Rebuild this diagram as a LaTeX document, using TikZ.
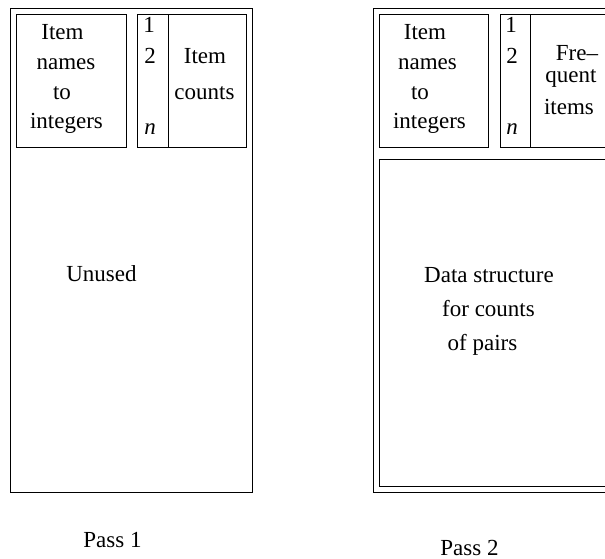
\documentclass[tikz,border=0pt]{standalone}
\usepackage{fontspec}
\setmainfont{Liberation Serif}
\begin{document}
\begin{tikzpicture}[x=1pt,y=-1pt,
  box/.style={draw=black,line width=1pt},
  lbl/.style={anchor=base,inner sep=0pt,font=\fontsize{23}{28}\selectfont}]
\clip (0,0) rectangle (605,559);
% ---------- Pass 1 ----------
\draw[box] (10,9) rectangle (252,492);
\draw[box] (16,15) rectangle (126,148);
\draw[box] (137,15) rectangle (246,148);
\draw[box] (168,15) -- (168,148);
\node[lbl] (a1) at (62.5,40) {Item};
\node[lbl] (a2) at (66,70) {names};
\node[lbl] (a3) at (62,100) {to};
\node[lbl] (a4) at (66.5,129) {integers};
\node[lbl] (i1) at (149,33) {1};
\node[lbl] (i2) at (150,64) {2};
\node[lbl] (in) at (150,135) {\textit{n}};
\node[lbl] (c1) at (205,64) {Item};
\node[lbl] (c2) at (204.5,100) {counts};
\node[lbl] (unused) at (101.5,281) {Unused};
\node[lbl] (pass1) at (112.5,547) {Pass 1};
% ---------- Pass 2 ----------
\draw[box] (373,9) rectangle (640,492);
\draw[box] (379,15) rectangle (488,148);
\draw[box] (500,15) rectangle (640,148);
\draw[box] (530,15) -- (530,148);
\draw[box] (379,160) rectangle (640,486);
\node[lbl] (b1) at (425,40) {Item};
\node[lbl] (b2) at (427.5,70) {names};
\node[lbl] (b3) at (420,100) {to};
\node[lbl] (b4) at (429.5,129) {integers};
\node[lbl] (j1) at (511,33) {1};
\node[lbl] (j2) at (512,64) {2};
\node[lbl] (jn) at (512,135) {\textit{n}};
\node[lbl] (f1) at (577,61) {Fre–};
\node[lbl] (f2) at (571,83) {quent};
\node[lbl] (f3) at (569,115) {items};
\node[lbl] (d1) at (489,282) {Data structure};
\node[lbl] (d2) at (488.5,316) {for counts};
\node[lbl] (d3) at (482.5,350) {of pairs};
\node[lbl] (pass2) at (469.5,555) {Pass 2};
\end{tikzpicture}
\end{document}
